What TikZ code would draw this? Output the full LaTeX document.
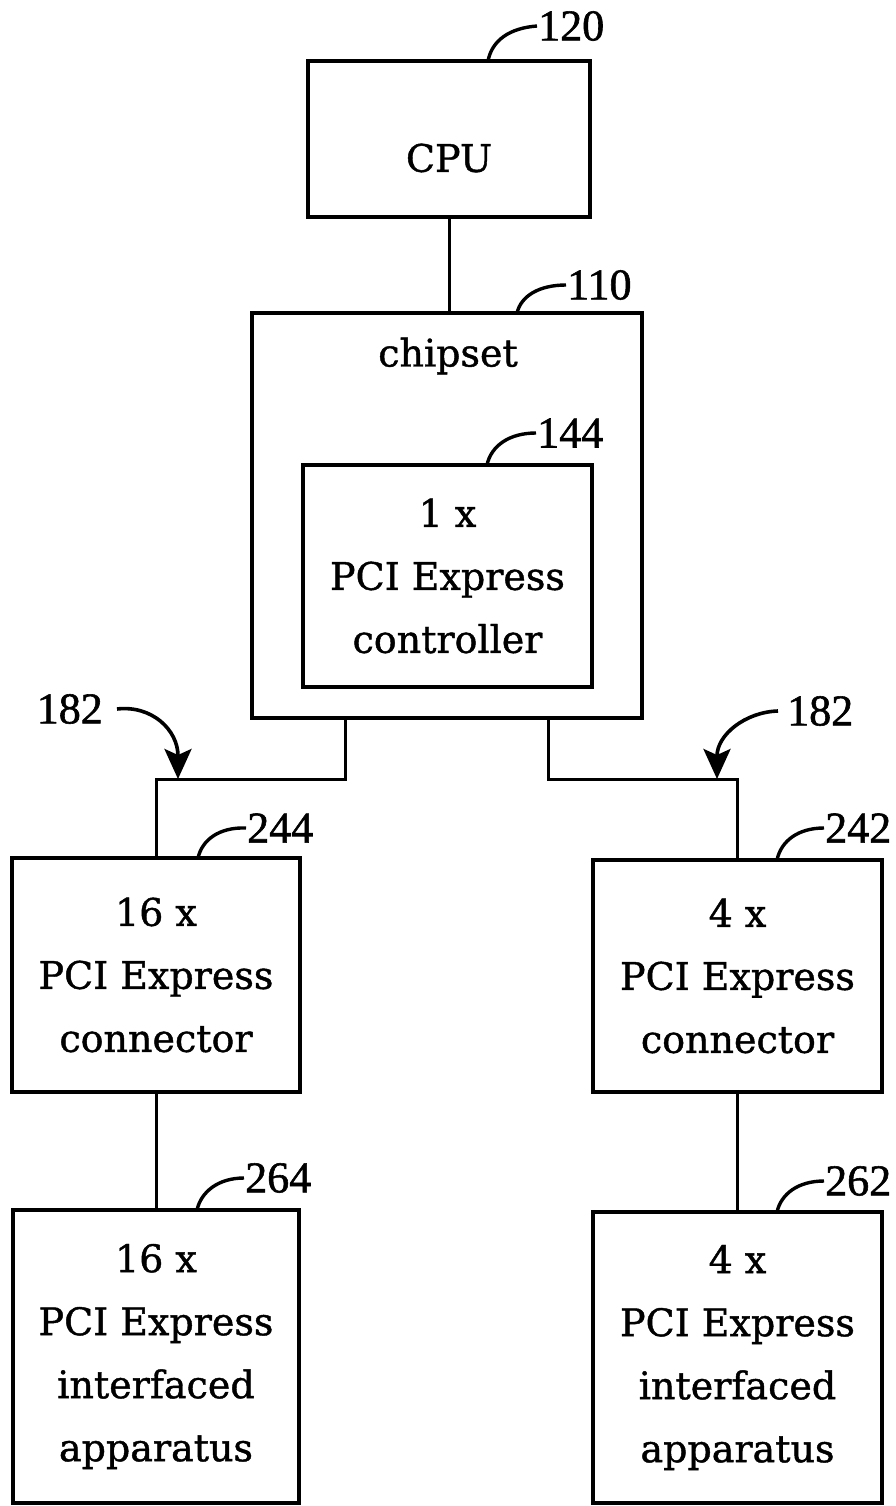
\documentclass[tikz,border=0pt]{standalone}
\usepackage{fontspec}
\setmainfont{DejaVu Serif}[FakeBold=1.1]
\newfontfamily\numfont{Liberation Serif}[FakeBold=1.3]
\usetikzlibrary{arrows.meta}
\begin{document}
\begin{tikzpicture}[x=1pt,y=-1pt,
  box/.style={draw,line width=4.4pt,rectangle,inner sep=0pt},
  txt/.style={align=center,inner sep=0pt,font=\fontsize{38}{63}\selectfont},
  num/.style={inner sep=0pt,font=\numfont\fontsize{44}{46}\selectfont},
  wire/.style={line width=3pt},
  lead/.style={line width=3.4pt},
  pointer/.style={line width=3.6pt,-{Stealth[length=30pt,width=27pt,inset=6pt]}}]
\useasboundingbox (0,0) rectangle (896,1506);
% boxes
\node[box,minimum width=282pt,minimum height=156pt] (cpu) at (449,139) {};
\node[txt] (cputxt) at (449,158) {CPU};
\node[box,minimum width=390pt,minimum height=405pt] (chipset) at (447,515.5) {};
\node[txt] (chiptxt) at (448,356) {chipset};
\node[box,minimum width=289pt,minimum height=222pt,txt] (ctrl) at (447.5,576) {1 x\\PCI Express\\controller};
\node[box,minimum width=288pt,minimum height=234pt,txt] (b244) at (156,975) {16 x\\PCI Express\\connector};
\node[box,minimum width=289pt,minimum height=232pt,txt] (b242) at (737.5,976) {4 x\\PCI Express\\connector};
\node[box,minimum width=286pt,minimum height=293pt,txt] (b264) at (156,1356.5) {16 x\\PCI Express\\interfaced\\apparatus};
\node[box,minimum width=289pt,minimum height=291pt,txt] (b262) at (737.5,1357.5) {4 x\\PCI Express\\interfaced\\apparatus};
% connectors
\draw[wire] (cpu.south) -- (cpu.south |- chipset.north);
\coordinate (jl) at (345,779);
\coordinate (jr) at (548,779);
\draw[wire] (jl |- chipset.south) -- (jl) -| (b244.north);
\draw[wire] (jr |- chipset.south) -- (jr) -| (b242.north);
\draw[wire] (b244.south) -- (b244.south |- b264.north);
\draw[wire] (b242.south) -- (b242.south |- b262.north);
% reference numerals
\node[num,anchor=west] (l120) at (538,26) {120};
\node[num,anchor=west] (l110) at (567,285) {110};
\node[num,anchor=west] (l144) at (537,433) {144};
\node[num,anchor=east] (l182a) at (103,709) {182};
\node[num,anchor=west] (l182b) at (787,711) {182};
\node[num,anchor=west] (l244) at (247,828) {244};
\node[num,anchor=west] (l242) at (825,828) {242};
\node[num,anchor=west] (l264) at (245,1178) {264};
\node[num,anchor=west] (l262) at (825,1181) {262};
% leader curves
\coordinate (c120) at (488,61);
\coordinate (c110) at (517,313);
\coordinate (c144) at (487,465);
\coordinate (c244) at (198,858);
\coordinate (c242) at (777,860);
\coordinate (c264) at (197,1210);
\coordinate (c262) at (777,1212);
\draw[lead] ([xshift=-1pt]l120.west) .. controls (510,28) and (492,40) .. (c120);
\draw[lead] ([xshift=-1pt]l110.west) .. controls (539,285) and (521,296) .. (c110);
\draw[lead] ([xshift=-1pt]l144.west) .. controls (509,433) and (491,446) .. (c144);
\draw[lead] ([xshift=-1pt]l244.west) .. controls (219,827) and (202,840) .. (c244);
\draw[lead] ([xshift=-1pt]l242.west) .. controls (798,828) and (781,841) .. (c242);
\draw[lead] ([xshift=-1pt]l264.west) .. controls (218,1178) and (201,1192) .. (c264);
\draw[lead] ([xshift=-1pt]l262.west) .. controls (798,1181) and (781,1194) .. (c262);
% arrows 182
\coordinate (a182l) at (178,779);
\coordinate (a182r) at (717,779);
\draw[pointer] ([xshift=14pt]l182a.east) .. controls (152,705) and (178,730) .. (a182l);
\draw[pointer] ([xshift=-9pt]l182b.west) .. controls (745,712) and (717,735) .. (a182r);
\end{tikzpicture}
\end{document}
